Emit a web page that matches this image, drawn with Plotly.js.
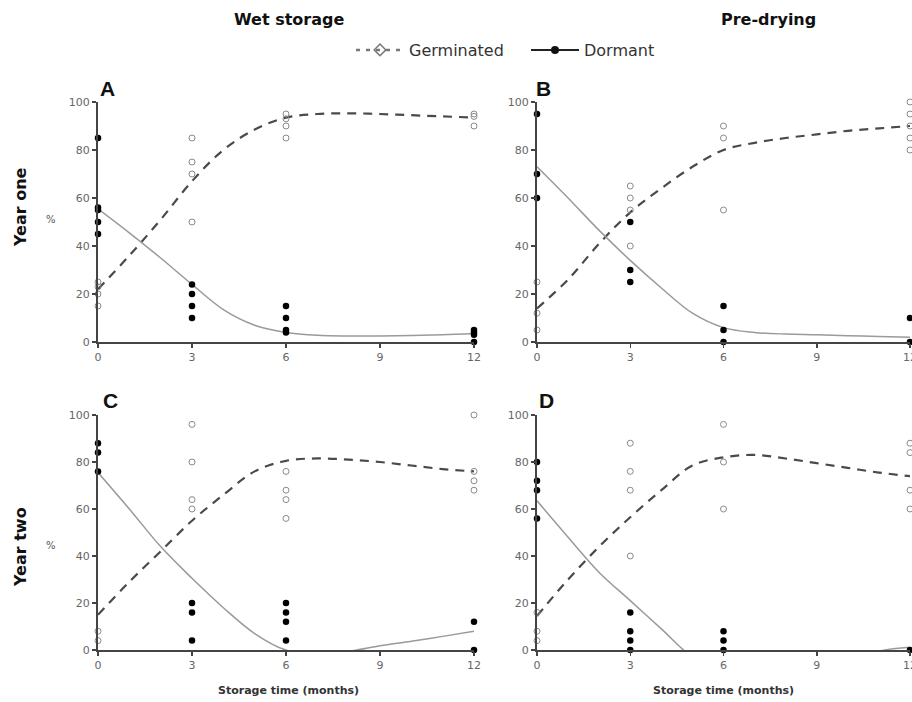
<!DOCTYPE html>
<html>
<head>
<meta charset="utf-8">
<script src="https://cdn.plot.ly/plotly-3.0.1.min.js"></script>
<style>html,body{margin:0;padding:0;background:#fff;}#chart{width:912px;height:702px;}</style>
</head>
<body>
<div id="chart"></div>
<script>
// Month ticks and fitted-curve sample months
const monthTicks = [0, 3, 6, 9, 12];
const fitMonths = [0, 1, 2, 3, 4, 5, 6, 7, 8, 9, 10, 11, 12];

// Panel A: Wet storage, Year one
const aGermX = [0, 0, 0, 0, 3, 3, 3, 3, 6, 6, 6, 6, 12, 12, 12];
const aGermY = [25, 23, 20, 15, 85, 75, 70, 50, 95, 93, 90, 85, 95, 94, 90];
const aDormX = [0, 0, 0, 0, 0, 3, 3, 3, 3, 6, 6, 6, 6, 12, 12, 12, 12];
const aDormY = [85, 56, 55, 50, 45, 24, 20, 15, 10, 15, 10, 5, 4, 5, 4, 3, 0];
const aGermFit = [22, 36, 51, 67, 80, 88.5, 93.5, 95, 95.3, 95, 94.5, 94, 93.5];
const aDormFit = [55.5, 45.5, 35, 24, 13.5, 7, 4, 2.8, 2.5, 2.5, 2.7, 3, 3.5];

// Panel B: Pre-drying, Year one
const bGermX = [0, 0, 0, 3, 3, 3, 3, 6, 6, 6, 12, 12, 12, 12, 12];
const bGermY = [25, 12, 5, 65, 60, 55, 40, 90, 85, 55, 100, 95, 90, 85, 80];
const bDormX = [0, 0, 0, 3, 3, 3, 6, 6, 6, 12, 12];
const bDormY = [95, 70, 60, 50, 30, 25, 15, 5, 0, 10, 0];
const bGermFit = [14, 26, 41, 54, 64, 73, 80, 83, 85, 86.5, 88, 89, 90];
const bDormFit = [73, 60, 46.5, 34, 22.5, 12, 6, 4, 3.3, 3, 2.6, 2.3, 2];

// Panel C: Wet storage, Year two
const cGermX = [0, 0, 3, 3, 3, 3, 6, 6, 6, 6, 12, 12, 12, 12];
const cGermY = [8, 4, 96, 80, 64, 60, 76, 68, 64, 56, 100, 76, 72, 68];
const cDormX = [0, 0, 0, 3, 3, 3, 6, 6, 6, 6, 12, 12];
const cDormY = [88, 84, 76, 20, 16, 4, 20, 16, 12, 4, 12, 0];
const cGermFit = [15, 29, 42, 55, 66, 76, 80.5, 81.5, 81, 80, 78.5, 77, 76];
const cDormFit = [75.5, 60, 44, 30.5, 18, 7, 0, -1, -0.5, 1.8, 3.7, 5.8, 8];

// Panel D: Pre-drying, Year two
const dGermX = [0, 0, 0, 3, 3, 3, 3, 6, 6, 6, 12, 12, 12, 12];
const dGermY = [16, 8, 4, 88, 76, 68, 40, 96, 80, 60, 88, 84, 68, 60];
const dDormX = [0, 0, 0, 0, 3, 3, 3, 3, 6, 6, 6, 12];
const dDormY = [80, 72, 68, 56, 16, 8, 4, 0, 8, 4, 0, 0];
const dGermFit = [14.5, 30, 44, 56.5, 68, 78.5, 82, 83, 81.5, 79.5, 77.5, 75.5, 74];
const dDormFit = [63.5, 48, 33, 21, 9, -3, -9, -12, -12, -10, -6, -0.5, 1.2];

const panels = [
  {gx: aGermX, gy: aGermY, dx: aDormX, dy: aDormY, gf: aGermFit, df: aDormFit, xa: 'x', ya: 'y'},
  {gx: bGermX, gy: bGermY, dx: bDormX, dy: bDormY, gf: bGermFit, df: bDormFit, xa: 'x2', ya: 'y2'},
  {gx: cGermX, gy: cGermY, dx: cDormX, dy: cDormY, gf: cGermFit, df: cDormFit, xa: 'x3', ya: 'y3'},
  {gx: dGermX, gy: dGermY, dx: dDormX, dy: dDormY, gf: dGermFit, df: dDormFit, xa: 'x4', ya: 'y4'}
];

const germLine = {color: '#4a4a4a', width: 2.2, dash: '9px,7px'};
const dormLine = {color: '#9a9a9a', width: 1.5};
const germMarker = {symbol: 'circle-open', size: 6, color: '#8a8a8a', line: {width: 1, color: '#8a8a8a'}};
const dormMarker = {symbol: 'circle', size: 6.5, color: '#000'};

const traces = [];
panels.forEach(p => {
  traces.push({x: fitMonths, y: p.gf, xaxis: p.xa, yaxis: p.ya, mode: 'lines', line: Object.assign({shape: 'spline'}, germLine), showlegend: false, hoverinfo: 'skip'});
  traces.push({x: fitMonths, y: p.df, xaxis: p.xa, yaxis: p.ya, mode: 'lines', line: Object.assign({shape: 'spline'}, dormLine), showlegend: false, hoverinfo: 'skip'});
  traces.push({x: p.gx, y: p.gy, xaxis: p.xa, yaxis: p.ya, mode: 'markers', marker: germMarker, cliponaxis: false, showlegend: false});
  traces.push({x: p.dx, y: p.dy, xaxis: p.xa, yaxis: p.ya, mode: 'markers', marker: dormMarker, cliponaxis: false, showlegend: false});
});
// legend entries
traces.push({x: [null], y: [null], name: 'Germinated', mode: 'lines+markers', line: {color: '#777', width: 2.5, dash: '4px,6px'}, marker: {symbol: 'diamond-open', size: 9, color: '#777', line: {width: 1.5, color: '#777'}}, showlegend: true});
traces.push({x: [null], y: [null], name: 'Dormant', mode: 'lines+markers', line: {color: '#222', width: 2}, marker: {symbol: 'circle', size: 8, color: '#111'}, showlegend: true});

const W = 912, H = 702;
const px = v => v / W;
const py = v => 1 - v / H;

const tickFont = {family: 'DejaVu Sans, sans-serif', size: 11, color: '#666'};
function xax(dom, anchor) {
  return {domain: dom, anchor: anchor, range: [0, 12], tickvals: monthTicks, ticktext: monthTicks.map(String),
    showline: true, linewidth: 2, linecolor: '#444', ticks: 'outside', ticklen: 4, tickwidth: 1.5, tickcolor: '#444',
    showgrid: false, zeroline: false, tickfont: tickFont, fixedrange: true, ticklabeloverflow: 'allow'};
}
function yax(dom, anchor) {
  return {domain: dom, anchor: anchor, range: [0, 100], dtick: 20, tick0: 0,
    showline: true, linewidth: 2, linecolor: '#444', ticks: 'outside', ticklen: 4, tickwidth: 1.5, tickcolor: '#444',
    showgrid: false, zeroline: false, tickfont: tickFont, fixedrange: true};
}

const colL = [px(98), px(474)], colR = [px(537), px(910)];
const rowT = [py(342), py(102)], rowB = [py(650), py(415)];

const titleFont = {family: 'DejaVu Sans, sans-serif', size: 16, color: '#111'};
const letterFont = {family: 'Liberation Sans, Arial, sans-serif', size: 21, color: '#111'};
const axTitleFont = {family: 'DejaVu Sans, sans-serif', size: 11, color: '#333'};
const ann = (x, y, text, font, extra) => Object.assign({xref: 'paper', yref: 'paper', x: px(x), y: py(y), text: text, showarrow: false, font: font, xanchor: 'center', yanchor: 'middle'}, extra || {});

const annotations = [
  ann(289, 20, '<b>Wet storage</b>', titleFont),
  ann(768, 20, '<b>Pre-drying</b>', titleFont),
  ann(20, 207, '<b>Year one</b>', titleFont, {textangle: -90}),
  ann(20, 547, '<b>Year two</b>', titleFont, {textangle: -90}),
  ann(51, 220, '%', {family: 'DejaVu Sans, sans-serif', size: 10, color: '#555'}),
  ann(51, 545, '%', {family: 'DejaVu Sans, sans-serif', size: 10, color: '#555'}),
  ann(107, 88, '<b>A</b>', letterFont),
  ann(543, 88, '<b>B</b>', letterFont),
  ann(110, 400, '<b>C</b>', letterFont),
  ann(546, 400, '<b>D</b>', letterFont),
  ann(288, 690, '<b>Storage time (months)</b>', axTitleFont),
  ann(723, 690, '<b>Storage time (months)</b>', axTitleFont)
];

const layout = {
  width: W, height: H,
  margin: {l: 0, r: 0, t: 0, b: 0},
  paper_bgcolor: '#fff', plot_bgcolor: '#fff',
  showlegend: true,
  legend: {orientation: 'h', x: px(351), y: py(50), xanchor: 'left', yanchor: 'middle',
    font: {family: 'DejaVu Sans, sans-serif', size: 16, color: '#333'},
    itemwidth: 48, entrywidth: 112, entrywidthmode: 'pixels', tracegroupgap: 0, bgcolor: 'rgba(0,0,0,0)'},
  xaxis: xax(colL, 'y'), yaxis: yax(rowT, 'x'),
  xaxis2: xax(colR, 'y2'), yaxis2: yax(rowT, 'x2'),
  xaxis3: xax(colL, 'y3'), yaxis3: yax(rowB, 'x3'),
  xaxis4: xax(colR, 'y4'), yaxis4: yax(rowB, 'x4'),
  annotations: annotations
};

Plotly.newPlot('chart', traces, layout, {displayModeBar: false, staticPlot: true});
</script>
</body>
</html>
